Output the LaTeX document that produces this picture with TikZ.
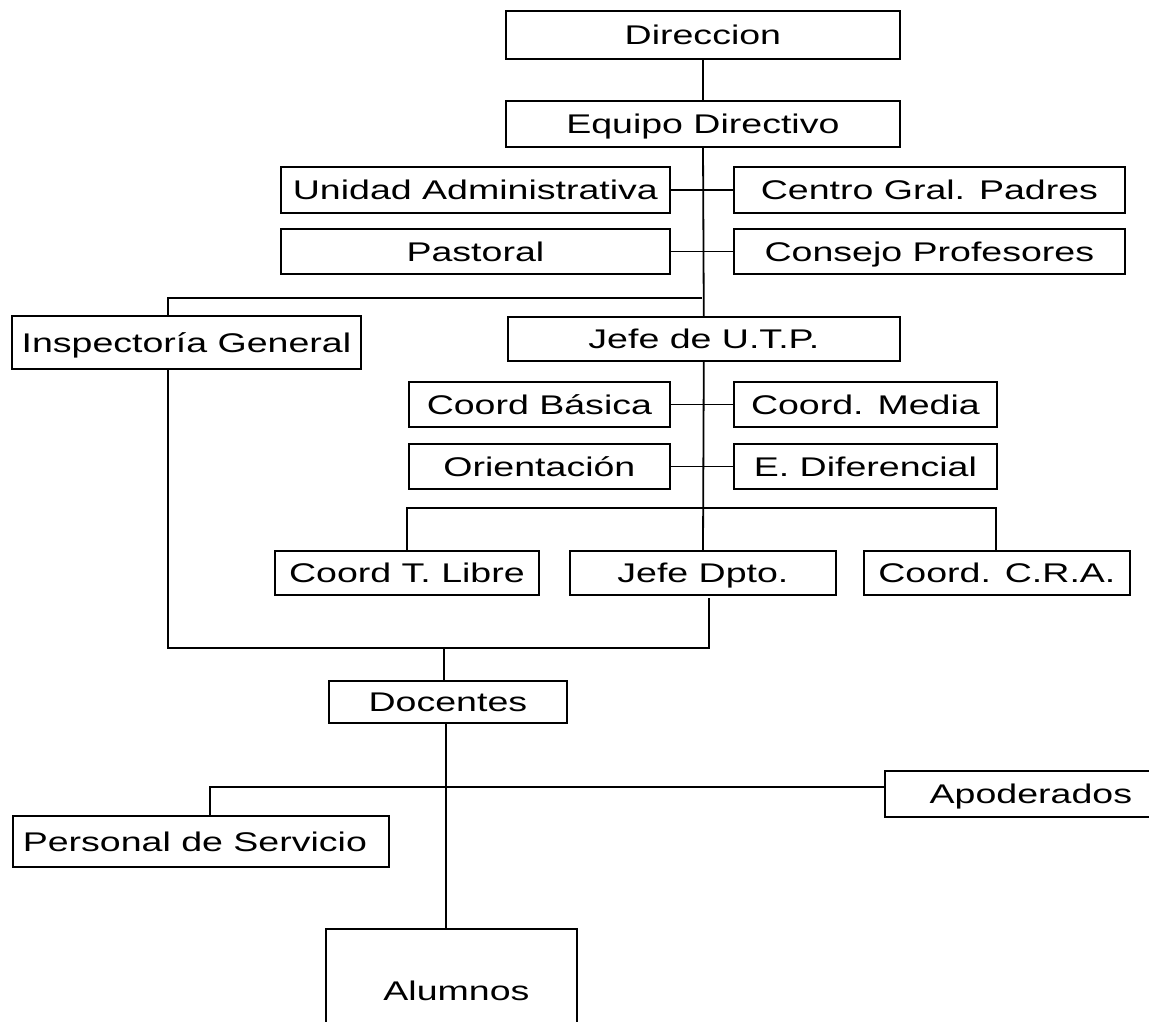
\documentclass[tikz,border=0pt]{standalone}
\usepackage{fontspec}
\setmainfont{Liberation Sans}[FakeStretch=1.39]
\usetikzlibrary{positioning,calc}

\begin{document}
\begin{tikzpicture}[x=1pt, y=-1pt, line width=1.8pt, font=\fontsize{27}{32}\selectfont]
\tikzstyle{caja}=[draw=black, rectangle, inner sep=0pt, anchor=north west, text=black,
                  text height=25pt, text depth=5.6pt]

\useasboundingbox (0,0) rectangle (1149,1021);
\clip (0,0) rectangle (1149,1021);

\node[caja, minimum width=394pt, minimum height=48pt]  (dir)      at (505,10)  {Direccion};
\node[caja, minimum width=394pt, minimum height=46pt]  (equipo)   at (505,100) {Equipo Directivo};
\node[caja, minimum width=389pt, minimum height=46pt]  (unidad)   at (280,166) {Unidad Administrativa};
\node[caja, minimum width=391pt, minimum height=46pt]  (centro)   at (733,166) {Centro Gral. Padres};
\node[caja, minimum width=389pt, minimum height=45pt]  (pastoral) at (280,228) {Pastoral};
\node[caja, minimum width=391pt, minimum height=45pt]  (consejo)  at (733,228) {Consejo Profesores};
\node[caja, minimum width=349pt, minimum height=53pt]  (insp)     at (11,315)  {Inspectoría General};
\node[caja, minimum width=392pt, minimum height=44pt]  (utp)      at (507,316) {Jefe de U.T.P.};
\node[caja, minimum width=261pt, minimum height=45pt]  (basica)   at (408,381) {Coord Básica};
\node[caja, minimum width=263pt, minimum height=45pt]  (media)    at (733,381) {Coord. Media};
\node[caja, minimum width=261pt, minimum height=45pt]  (orient)   at (408,443) {Orientación};
\node[caja, minimum width=263pt, minimum height=45pt]  (difer)    at (733,443) {E. Diferencial};
\node[caja, minimum width=264pt, minimum height=44pt]  (libre)    at (274,550) {Coord T. Libre};
\node[caja, minimum width=266pt, minimum height=44pt]  (dpto)     at (569,550) {Jefe Dpto.};
\node[caja, minimum width=266pt, minimum height=44pt]  (cra)      at (863,550) {Coord. C.R.A.};
\node[caja, minimum width=238pt, minimum height=42pt]  (docentes) at (328,680) {Docentes};
\node[caja, minimum width=292pt, minimum height=46pt]  (apod)     at (884,770) {Apoderados};
\node[caja, minimum width=376pt, minimum height=51pt]  (personal) at (12,815)  {Personal de Servicio\hspace*{12pt}};
\node[caja, minimum width=251pt, minimum height=124pt] (alumnos)  at (325,928) {\hspace*{10pt}Alumnos};

% puntos de quiebre
\coordinate (j1) at (702,298);
\coordinate (j2) at (168,298);
\coordinate (k1) at (407,508);
\coordinate (k2) at (996,508);
\coordinate (m1) at (168,648);
\coordinate (m2) at (709,648);
\coordinate (m3) at (709,598);
\coordinate (m4) at (444,648);
\coordinate (n1) at (446,787);
\coordinate (n2) at (210,787);

\draw (dir) -- (equipo);
\draw (equipo) -- (utp);
\draw (unidad) -- (centro);
\draw (pastoral) -- (consejo);
\draw (j1) -- (j2) -- (j2 |- insp.north);
\draw (utp) -- (dpto);
\draw (basica) -- (media);
\draw (orient) -- (difer);
\draw (k1 |- libre.north) -- (k1) -- (k2) -- (k2 |- cra.north);
\draw (m1 |- insp.south) -- (m1) -- (m2) -- (m3);
\draw (m4) -- (m4 |- docentes.north);
\draw (n1 |- docentes.south) -- (n1 |- alumnos.north);
\draw (n2 |- personal.north) -- (n2) -- (n2 -| apod.west);

\end{tikzpicture}
\end{document}
